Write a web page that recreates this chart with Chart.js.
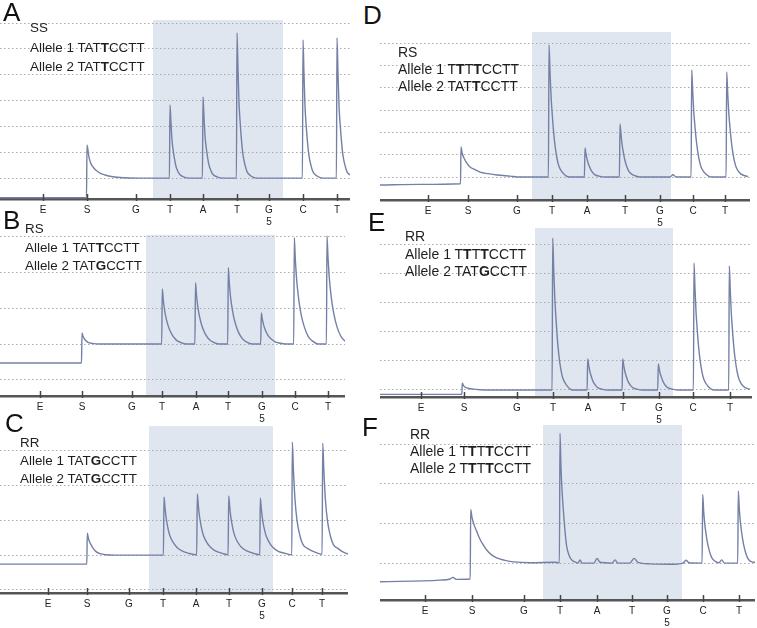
<!DOCTYPE html>
<html>
<head>
<meta charset="utf-8">
<script src="https://cdn.jsdelivr.net/npm/chart.js@4"></script>
<style>
body{margin:0;background:#fff;}
#fig{position:relative;width:757px;height:628px;overflow:hidden;font-family:"Liberation Sans",Arial,sans-serif;}
.pane{position:absolute;}
.tag{position:absolute;font-size:26px;line-height:1;color:#111;}
.txt{position:absolute;color:#1e1e1e;white-space:nowrap;}
</style>
</head>
<body>
<div id="fig">
  <div class="pane" style="left:0;top:18px;width:350px;height:209px"><canvas id="cA"></canvas></div>
  <div class="pane" style="left:0;top:233px;width:345px;height:191px"><canvas id="cB"></canvas></div>
  <div class="pane" style="left:0;top:424px;width:348px;height:197px"><canvas id="cC"></canvas></div>
  <div class="pane" style="left:380px;top:30px;width:370px;height:198px"><canvas id="cD"></canvas></div>
  <div class="pane" style="left:380px;top:226px;width:372px;height:199px"><canvas id="cE"></canvas></div>
  <div class="pane" style="left:380px;top:423px;width:375px;height:205px"><canvas id="cF"></canvas></div>

  <div class="tag" style="left:3px;top:-1px">A</div>
  <div class="tag" style="left:3px;top:207px">B</div>
  <div class="tag" style="left:5px;top:410px">C</div>
  <div class="tag" style="left:363px;top:2px">D</div>
  <div class="tag" style="left:368px;top:209px">E</div>
  <div class="tag" style="left:362px;top:414px">F</div>

  <div class="txt" style="left:30px;top:18px;font-size:13.4px;line-height:19.5px">SS<br>Allele 1 TAT<b>T</b>CCTT<br>Allele 2 TAT<b>T</b>CCTT</div>
  <div class="txt" style="left:25px;top:220px;font-size:13.4px;line-height:18.5px">RS<br>Allele 1 TAT<b>T</b>CCTT<br>Allele 2 TAT<b>G</b>CCTT</div>
  <div class="txt" style="left:20px;top:434px;font-size:13.4px;line-height:18px">RR<br>Allele 1 TAT<b>G</b>CCTT<br>Allele 2 TAT<b>G</b>CCTT</div>
  <div class="txt" style="left:398px;top:44px;font-size:14px;line-height:17px">RS<br>Allele 1 T<b>T</b>T<b>T</b>CCTT<br>Allele 2 TAT<b>T</b>CCTT</div>
  <div class="txt" style="left:405px;top:228px;font-size:14px;line-height:17.5px">RR<br>Allele 1 T<b>T</b>T<b>T</b>CCTT<br>Allele 2 TAT<b>G</b>CCTT</div>
  <div class="txt" style="left:410px;top:426px;font-size:14px;line-height:17px">RR<br>Allele 1 T<b>T</b>T<b>T</b>CCTT<br>Allele 2 T<b>T</b>T<b>T</b>CCTT</div>
</div>
<script>
// dispensation order (E = enzyme, S = substrate, then nucleotides)
var dispLabels = ['E', 'S', 'G', 'T', 'A', 'T', ['G', '5'], 'C', 'T'];

// dispensation times for each run (run time units)
var dispA = [43, 87, 136, 170, 203, 237, 269, 303, 337];
var dispB = [40, 82, 132, 162, 196, 228, 262, 295, 328];
var dispC = [48, 87, 129, 163, 196, 229, 262, 292, 322];
var dispD = [48, 88, 137, 172, 207, 245, 280, 313, 345];
var dispE = [41, 84, 137, 173, 208, 243, 279, 313, 350];
var dispF = [45, 92, 144, 180, 217, 252, 287, 323, 359];

// run length
var runEnd = {A: 350, B: 345, C: 348, D: 370, E: 372, F: 375};

// y range of each pyrogram (signal units, gridline = 1)
var yMinMax = {A: [-0.81, 6.2], B: [-1.45, 3.1], C: [-1.09, 3.77], D: [-1.03, 6.59], E: [-0.24, 5.62], F: [-0.93, 3.53]};
var gridA = [0, 1, 2, 3, 4, 5, 6];
var gridB = [-1, 0, 1, 2, 3];
var gridC = [-1, 0, 1, 2, 3];
var gridD = [0, 1, 2, 3, 4, 5, 6];
var gridE = [0, 1, 2, 3, 4, 5];
var gridF = [0, 1, 2, 3];

// shaded SNP region [from, to, top]
var shadeA = [153, 283, 6.12];
var shadeB = [146, 275, 3.05];
var shadeC = [149, 273, 3.71];
var shadeD = [152, 291, 6.5];
var shadeE = [155, 293, 5.55];
var shadeF = [163, 302, 3.48];

// traces [time, signal]
var traceA = [[0,-0.76],[86.5,-0.76],
  [87,1.28],[89,0.8],[91,0.55],[93,0.43],[96,0.3],[100,0.19],[105,0.12],[110,0.07],[120,0.02],[140,0],
  [169.4,0],[170,2.83],[171,2.12],[172,1.47],[173,1.13],[174.5,0.74],[176,0.45],[178,0.25],[180,0.13],[184,0.04],[190,0],
  [202.4,0],[203,3.14],[204,2.36],[205,1.63],[206,1.26],[207.5,0.82],[209,0.5],[211,0.28],[213,0.14],[217,0.05],[223,0],
  [236.4,0],[237,5.62],[238,4.22],[239,2.92],[240,2.25],[241.5,1.46],[243,0.9],[245,0.51],[247,0.25],[251,0.08],[257,0],
  [302.4,0],[303,5.35],[304,4.01],[305,2.78],[306,2.14],[307.5,1.39],[309,0.86],[311,0.48],[313,0.24],[317,0.08],[323,0],
  [336.4,0],[337,5.43],[338,4.07],[339,2.82],[340,2.17],[341.5,1.41],[343,0.87],[345,0.49],[347,0.24],[350,0.12]];

var traceB = [[0,-0.53],[81.5,-0.53],
  [82,0.31],[83,0.22],[85,0.12],[88,0.05],[92,0.02],[100,0],
  [161.7,0],[162.3,1.54],[163.3,1.23],[164.3,1.0],[165.3,0.83],[167.3,0.59],[169.3,0.42],[172.3,0.25],[176.3,0.11],[180.3,0.05],[186.3,0],
  [194.9,0],[195.5,1.71],[196.5,1.37],[197.5,1.11],[198.5,0.92],[200.5,0.65],[202.5,0.46],[205.5,0.27],[209.5,0.12],[213.5,0.05],[219.5,0],
  [227.7,0],[228.3,2.13],[229.3,1.7],[230.3,1.38],[231.3,1.15],[233.3,0.81],[235.3,0.58],[238.3,0.34],[242.3,0.15],[246.3,0.06],[252.3,0],
  [260.7,0],[261.3,0.87],[262.3,0.7],[263.3,0.57],[264.3,0.47],[266.3,0.33],[268.3,0.23],[271.3,0.14],[275.3,0.06],[279.3,0.03],[285.3,0],
  [293.7,0],[294.3,2.97],[295.3,2.38],[296.3,1.93],[297.3,1.6],[299.3,1.13],[301.3,0.8],[304.3,0.48],[308.3,0.21],[312.3,0.09],[318.3,0],
  [326.4,0],[327,3.02],[328,2.42],[329,1.96],[330,1.63],[332,1.15],[334,0.82],[337,0.48],[341,0.21],[345,0.08]];

var traceC = [[0,-0.26],[86.8,-0.26],
  [87.3,0.63],[88.3,0.5],[89.3,0.4],[91,0.3],[93,0.2],[96,0.1],[100,0.04],[106,0.01],[115,0],
  [163.4,0],[164,1.67],[165,1.37],[166,1.1],[167,0.92],[168.5,0.7],[170,0.55],[173,0.37],[177,0.22],[182,0.12],[189,0.05],[196.7,0.01],
  [197.3,1.76],[198.3,1.44],[199.3,1.16],[200.3,0.97],[201.8,0.74],[203.3,0.58],[206.3,0.39],[210.3,0.23],[215.3,0.12],[222.3,0.05],[228.1,0.01],
  [228.7,1.7],[229.7,1.39],[230.7,1.12],[231.7,0.94],[233.2,0.71],[234.7,0.56],[237.7,0.37],[241.7,0.22],[246.7,0.12],[253.7,0.05],[259.8,0.01],
  [260.3,1.64],[261.3,1.34],[262.3,1.08],[263.3,0.9],[264.8,0.69],[266.3,0.54],[269.3,0.36],[273.3,0.21],[278.3,0.11],[285.3,0.05],[291.8,0.01],
  [292.3,3.25],[293.5,2.4],[295,1.6],[297,1.0],[300,0.55],[303,0.3],[307,0.2],[312,0.12],[318,0.05],[322.1,0.02],
  [322.7,3.22],[323.9,2.4],[325.4,1.6],[327.4,1.0],[330.4,0.55],[333.4,0.3],[337.4,0.2],[342.4,0.1],[348,0.03]];

var traceD = [[0,-0.36],[40,-0.33],[80.5,-0.3],
  [81,1.35],[82,1.1],[83.5,0.9],[86.7,0.63],[90,0.45],[95,0.33],[100,0.22],[108,0.15],[117,0.09],[130,0.04],[140,0],
  [168.4,0],[169,5.92],[170,4.74],[171,3.67],[172,2.96],[173.5,2.07],[175,1.42],[177,0.83],[179,0.47],[183,0.18],[189,0],
  [204.4,0],[205,1.3],[206,1.04],[207,0.81],[208,0.65],[209.5,0.46],[211,0.31],[213,0.18],[215,0.1],[219,0.04],[225,0],
  [239.4,0],[240,2.38],[241,1.9],[242,1.48],[243,1.19],[244.5,0.83],[246,0.57],[248,0.33],[250,0.19],[254,0.07],[260,0],
  [290,0],[293,0.1],[296,0],
  [311.1,0],[311.7,4.8],[312.7,3.84],[313.7,2.98],[314.7,2.4],[316.2,1.68],[317.7,1.15],[319.7,0.67],[321.7,0.38],[325.7,0.14],[331.7,0],
  [346.1,0],[346.7,4.71],[347.7,3.77],[348.7,2.92],[349.7,2.36],[351.2,1.65],[352.7,1.13],[354.7,0.66],[356.7,0.38],[360.7,0.14],[368,0.02]];

var traceE = [[0,-0.15],[81.8,-0.15],
  [82.3,0.24],[83.5,0.15],[85,0.1],[88,0.06],[93,0.03],[100,0.01],[110,0],
  [172.1,0],[172.7,5.2],[173.7,4.16],[174.7,3.22],[175.7,2.6],[177.2,1.82],[178.7,1.25],[180.7,0.73],[182.7,0.42],[186.7,0.16],[192.7,0],
  [207.1,0],[207.7,1.06],[208.7,0.85],[209.7,0.66],[210.7,0.53],[212.2,0.37],[213.7,0.25],[215.7,0.15],[217.7,0.08],[221.7,0.03],[227.7,0],
  [242.1,0],[242.7,1.06],[243.7,0.85],[244.7,0.66],[245.7,0.53],[247.2,0.37],[248.7,0.25],[250.7,0.15],[252.7,0.08],[256.7,0.03],[262.7,0],
  [277.7,0],[278.3,0.89],[279.3,0.71],[280.3,0.55],[281.3,0.45],[282.8,0.31],[284.3,0.21],[286.3,0.12],[288.3,0.07],[292.3,0.03],[298.3,0],
  [313.4,0],[314,4.35],[315,3.48],[316,2.7],[317,2.18],[318.5,1.52],[320,1.04],[322,0.61],[324,0.35],[328,0.13],[334,0],
  [348.7,0],[349.3,4.25],[350.3,3.4],[351.3,2.64],[352.3,2.13],[353.8,1.49],[355.3,1.02],[357.3,0.6],[359.3,0.34],[363.3,0.13],[370,0.02]];

var traceF = [[0,-0.47],[60,-0.43],[70,-0.4],[73,-0.36],[76,-0.41],[90.2,-0.4],
  [90.7,1.35],[92,1.15],[94,0.97],[96.7,0.8],[100,0.6],[103,0.47],[106.7,0.33],[111,0.22],[116.7,0.13],[125,0.07],[134,0.03],[150,0.01],[175,0.02],
  [179.4,0.01],[180,3.27],[181,2.4],[182,1.85],[183,1.45],[184.5,0.95],[186.5,0.45],[189,0.2],[192,0.07],[196,0.02],
  [198,0],[200,0.08],[202,0],[214,0],[217,0.12],[220,0.02],[232,0],[235,0.08],[238,0],[250,0],[254,0.12],[258,0.02],[270,-0.02],[290,-0.03],[303,0],[306,0.07],[309,0.01],
  [322.1,0],[322.7,1.73],[323.7,1.3],[324.7,1.0],[325.7,0.8],[327.2,0.55],[328.7,0.37],[330.7,0.2],[332.7,0.1],[336,0.03],[339,0.01],[341.7,0.08],[344.5,0],
  [357.7,0],[358.3,1.82],[359.3,1.37],[360.3,1.05],[361.3,0.84],[362.8,0.58],[364.3,0.39],[366.3,0.21],[368.3,0.1],[371.7,0.03],[375,0.02]];

var shadePlugin = {
  id: 'shade',
  beforeDraw: function(chart, args, opts) {
    var ctx = chart.ctx, area = chart.chartArea;
    var x = chart.scales.x, y = chart.scales.y;
    var l = x.getPixelForValue(opts.range[0]), r = x.getPixelForValue(opts.range[1]);
    var t = y.getPixelForValue(opts.range[2]);
    ctx.save();
    ctx.fillStyle = opts.color;
    ctx.fillRect(l, t, r - l, area.bottom - t);
    ctx.restore();
  }
};

// small upward tick marks on the time axis
var axisTicks = {
  id: 'axisTicks',
  afterDraw: function(chart) {
    var ctx = chart.ctx, x = chart.scales.x, yb = chart.chartArea.bottom;
    ctx.save();
    ctx.strokeStyle = '#444';
    ctx.lineWidth = 1.5;
    x.ticks.forEach(function(t) {
      var px = Math.round(x.getPixelForValue(t.value)) + 0.5;
      ctx.beginPath();
      ctx.moveTo(px, yb - 5);
      ctx.lineTo(px, yb + 2);
      ctx.stroke();
    });
    ctx.restore();
  }
};

function pyrogram(id, key, disp, trace, grid, shade) {
  var ctx = document.getElementById(id).getContext('2d');
  return new Chart(ctx, {
    type: 'line',
    data: {
      datasets: [{
        data: trace,
        borderColor: '#7480a5',
        borderWidth: 1.4,
        pointRadius: 0,
        fill: false,
        cubicInterpolationMode: 'monotone'
      }]
    },
    options: {
      responsive: true,
      maintainAspectRatio: false,
      animation: false,
      layout: {padding: 0},
      plugins: {
        legend: {display: false},
        tooltip: {enabled: false},
        shade: {range: shade, color: '#dfe6f0'}
      },
      scales: {
        x: {
          type: 'linear',
          min: 0,
          max: runEnd[key],
          afterBuildTicks: function(ax) { ax.ticks = disp.map(function(v) { return {value: v}; }); },
          afterFit: function(ax) { ax.height = 28; },
          ticks: {
            autoSkip: false,
            maxRotation: 0,
            padding: 5,
            color: '#222',
            font: {family: 'Liberation Sans', size: 10, lineHeight: 1.2},
            callback: function(v, i) { return dispLabels[i]; }
          },
          grid: {display: false, drawTicks: false},
          border: {display: true, color: '#555', width: 2.5}
        },
        y: {
          min: yMinMax[key][0],
          max: yMinMax[key][1],
          afterBuildTicks: function(ax) { ax.ticks = grid.map(function(v) { return {value: v}; }); },
          afterFit: function(ax) { ax.width = 0; },
          ticks: {display: false},
          grid: {color: '#aaaaaa', lineWidth: 1, drawTicks: false},
          border: {display: false, dash: [1.5, 2.5]}
        }
      }
    },
    plugins: [shadePlugin, axisTicks]
  });
}

pyrogram('cA', 'A', dispA, traceA, gridA, shadeA);
pyrogram('cB', 'B', dispB, traceB, gridB, shadeB);
pyrogram('cC', 'C', dispC, traceC, gridC, shadeC);
pyrogram('cD', 'D', dispD, traceD, gridD, shadeD);
pyrogram('cE', 'E', dispE, traceE, gridE, shadeE);
pyrogram('cF', 'F', dispF, traceF, gridF, shadeF);
</script>
</body>
</html>
